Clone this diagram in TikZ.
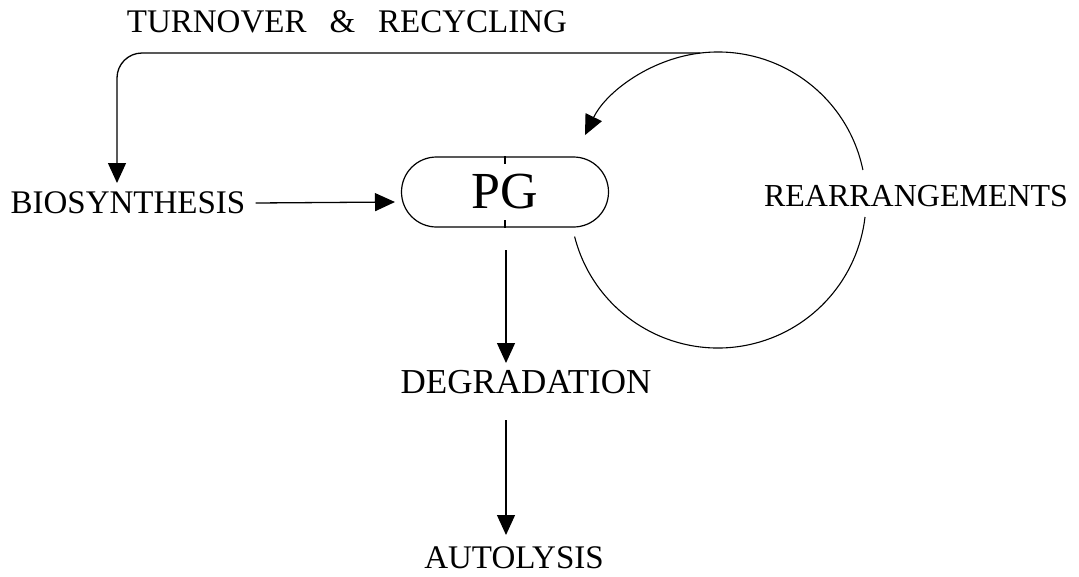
\documentclass[tikz,border=0pt]{standalone}
\usepackage{fontspec}
\setmainfont{Liberation Serif}
\usetikzlibrary{arrows.meta,calc}
\begin{document}
\begin{tikzpicture}[x=1pt,y=-1pt,
  lbl/.style={inner sep=0pt, font=\fontsize{33}{38}\selectfont},
  arr/.style={line width=1.3pt, -{Triangle[length=20pt,width=18pt]}},
  ring/.style={line width=1.1pt},
  pgbox/.style={draw, line width=1.2pt, minimum width=207pt, minimum height=70pt, rounded corners=35pt, inner sep=0pt, font=\fontsize{52}{60}\selectfont}]
\useasboundingbox (0,0) rectangle (1079,576);
\node[lbl] (turn) at (347,22) {TURNOVER\hspace{23pt}\&\hspace{23pt}RECYCLING};
\node[lbl] (bio) at (128,203) {BIOSYNTHESIS};
\node[pgbox] (pg) at (505,192) {PG};
\node[lbl, font=\fontsize{32}{37}\selectfont] (rear) at (916,196) {REARRANGEMENTS};
\node[lbl, font=\fontsize{35}{40}\selectfont] (deg) at (526,382) {DEGRADATION};
\node[lbl] (auto) at (514,558) {AUTOLYSIS};
% septum ticks
\draw[line width=1.2pt] (pg.north) -- ++(0,8);
\draw[line width=1.2pt] (pg.south) -- ++(0,-8);
% circle of rearrangements
\coordinate (c) at (718,200);
\coordinate (top) at (700,53);
\draw[ring] ($(c)+(165.7:148)$) arc[start angle=165.7, end angle=6.6, radius=148];
\draw[ring, -{Triangle[length=20pt,width=18pt]}] ($(c)+(-11.7:148)$) arc[start angle=-11.7, end angle=-154, radius=148];
% turnover line
\draw[arr, rounded corners=25pt] (top) -| (117,183);
% straight arrows
\draw[arr] ([xshift=10pt]bio.east) -- (395,202);
\draw[arr] (506,250) -- (506,363);
\draw[arr] (506,420) -- (506,535);
\end{tikzpicture}
\end{document}
